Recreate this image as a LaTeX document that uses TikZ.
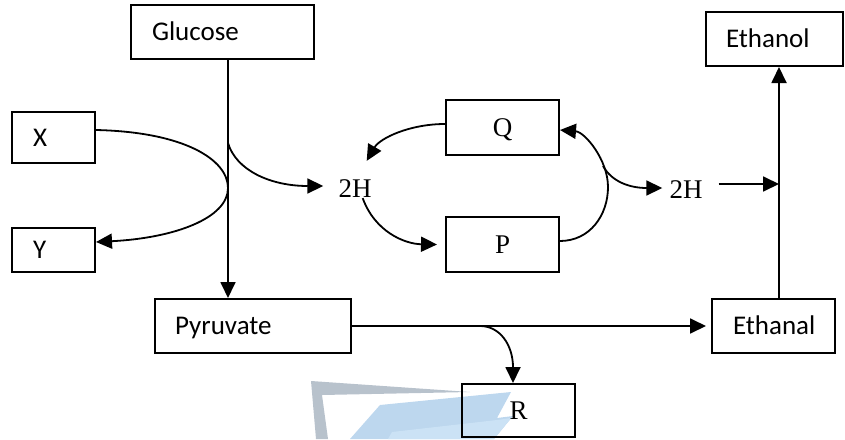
\documentclass[tikz,border=0pt]{standalone}
\usepackage{fontspec}
\setmainfont{Liberation Serif}
\newfontfamily\labfont{Carlito}
\usetikzlibrary{arrows.meta,calc}
\definecolor{wmgray}{RGB}{184,194,204}
\definecolor{wmblue}{RGB}{189,215,238}
\definecolor{wmbluelt}{RGB}{203,226,245}
\begin{document}
\begin{tikzpicture}[x=1pt,y=-1pt,
  sbox/.style={draw, line width=2pt, inner ysep=0pt, font=\labfont\fontsize{27}{32}\selectfont, text height=17.4pt, text depth=0pt, align=left},
  lbox/.style={draw, line width=2pt, inner sep=0pt, font=\fontsize{27}{32}\selectfont, text height=17.9pt, text depth=0pt},
  hlab/.style={inner sep=0pt, font=\fontsize{27}{32}\selectfont, text height=17.9pt, text depth=0pt},
  conn/.style={line width=1.8pt},
  arr/.style={conn, -{Triangle[length=16pt,width=15pt]}}
]
\useasboundingbox (0,0) rectangle (845,439);
% watermark
\fill[wmgray] (311,381) -- (470,392) -- (322,395) -- (328,439) -- (316,439) -- cycle;
\fill[wmblue] (380,405) -- (511,392) -- (497,418) -- (513,416) -- (494,439) -- (350,439) -- cycle;
\fill[wmbluelt] (392,432) -- (497,420) -- (511,418) -- (494,439) -- (388,439) -- cycle;
% boxes
\node[sbox, minimum width=183pt, minimum height=54pt, inner xsep=21pt, text width=141pt] (glucose) at (222.5,32) {Glucose};
\node[sbox, minimum width=83pt, minimum height=51pt, inner xsep=21pt, text width=41pt] (X) at (53.5,137.5) {X};
\node[sbox, minimum width=83pt, minimum height=44pt, inner xsep=21pt, text width=41pt] (Y) at (53.5,250) {Y};
\node[sbox, minimum width=196pt, minimum height=54pt, inner xsep=20pt, text width=156pt] (pyruvate) at (253,326) {Pyruvate};
\node[sbox, minimum width=137pt, minimum height=54pt, inner xsep=20pt, text width=97pt] (ethanol) at (774.5,39) {Ethanol};
\node[sbox, minimum width=123pt, minimum height=54pt, inner xsep=21pt, text width=81pt] (ethanal) at (773.5,326) {Ethanal};
\node[lbox, minimum width=113pt, minimum height=55pt] (Q) at (502.5,127.5) {Q};
\node[lbox, minimum width=113pt, minimum height=55pt] (P) at (502.5,244.5) {P};
\node[lbox, minimum width=113pt, minimum height=53pt] (R) at (518.5,410.5) {R};
\node[hlab] (h1) at (355,189) {2H};
\node[hlab] (h2) at (686,190) {2H};
% coordinates
\coordinate (gx) at (228,0);
\coordinate (gb) at (228,143);
\coordinate (xy) at (228,188);
\coordinate (arcr) at (608,187);
\coordinate (hb) at (603,166);
\coordinate (vx) at (779,184);
\coordinate (rb) at (480,326);
% connectors
\draw[arr] (glucose.south -| gx) -- (pyruvate.north -| gx);
\draw[arr] (gb) .. controls (236,170) and (270,186) .. ([shift={(-15pt,3pt)}]h1.west);
\draw[arr] ([yshift=7.5pt]X.east) .. controls (185,132) and (228,160) .. (xy) .. controls (228,218) and (175,238) .. ([yshift=8pt]Y.east);
\draw[arr] ([yshift=3.5pt]Q.west) .. controls (410,124) and (380,138) .. ([shift={(-5pt,19pt)}]h1.north east);
\draw[arr] ([xshift=-9pt]h1.south east) .. controls (375,232) and (405,244) .. ([xshift=-8pt]P.west);
\draw[arr] ([yshift=3.5pt]P.east) .. controls (590,241) and (608,215) .. (arcr) .. controls (608,160) and (585,132) .. ([yshift=-2.5pt]Q.east);
\draw[arr] (hb) .. controls (612,182) and (630,188) .. ([shift={(-7pt,2pt)}]h2.west);
\draw[arr] ([shift={(16pt,6pt)}]h2.east) -- (vx);
\draw[arr] (ethanal.north -| vx) -- (ethanol.south -| vx);
\draw[arr] (pyruvate.east) -- ([xshift=-5pt]ethanal.west);
\draw[arr] (rb) .. controls (500,326) and (513,345) .. ([xshift=-5.5pt]R.north);
\end{tikzpicture}
\end{document}
